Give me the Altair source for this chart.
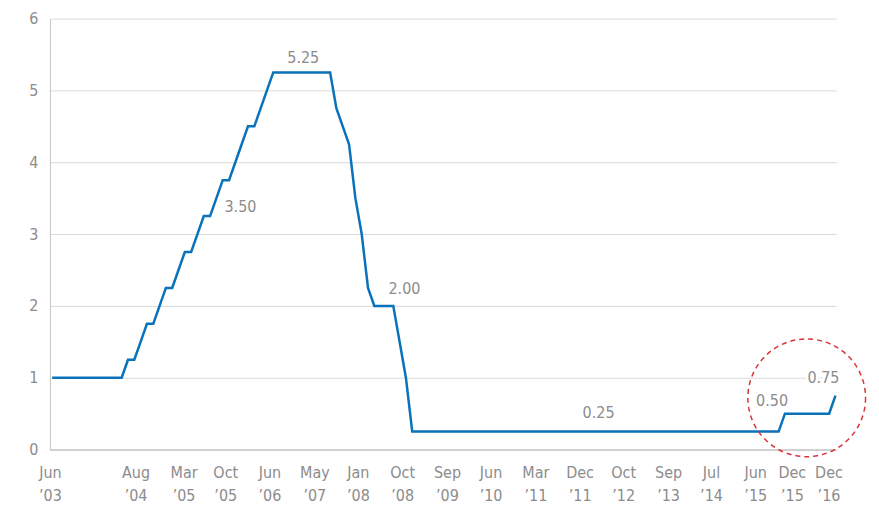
import json
import altair as alt
import pandas as pd

# Fed funds target rate, one value per observation (equally spaced along x)
rate_2003_2004 = [1.00] * 12
rate_hikes = [1.25, 1.25, 1.50, 1.75, 1.75, 2.00, 2.25, 2.25, 2.50, 2.75, 2.75,
              3.00, 3.25, 3.25, 3.50, 3.75, 3.75, 4.00, 4.25, 4.50, 4.50, 4.75, 5.00]
rate_peak = [5.25] * 10
rate_cuts = [4.75, 4.50, 4.25, 3.50, 3.00, 2.25, 2.00, 2.00, 2.00, 2.00, 1.50, 1.00]
rate_zero = [0.25] * 59
rate_2016 = [0.50] * 8
rate_last = [0.75]
rates = rate_2003_2004 + rate_hikes + rate_peak + rate_cuts + rate_zero + rate_2016 + rate_last

# x-axis tick positions (in observation units) and their two-line labels
tick_pos = [-0.36, 13.2, 20.8, 27.4, 34.4, 41.5, 48.4, 55.4, 62.5, 69.4, 76.5,
            83.5, 90.4, 97.5, 104.3, 111.3, 117.1, 122.9]
tick_month = ["Jun", "Aug", "Mar", "Oct", "Jun", "May", "Jan", "Oct", "Sep", "Jun",
              "Mar", "Dec", "Oct", "Sep", "Jul", "Jun", "Dec", "Dec"]
tick_year = ["’03", "’04", "’05", "’05", "’06", "’07", "’08", "’08", "’09", "’10",
             "’11", "’11", "’12", "’13", "’14", "’15", "’15", "’16"]

# annotations
ann_x = [39.75, 29.8, 55.77, 86.5, 113.96, 122.1]
ann_y = [5.45, 3.37, 2.24, 0.51, 0.68, 0.99]
ann_text = ["5.25", "3.50", "2.00", "0.25", "0.50", "0.75"]

# highlight circle centre
circle_x = [119.45]
circle_y = [0.72]

df = pd.DataFrame({"obs": list(range(len(rates))), "rate": rates})
ann = pd.DataFrame({"obs": ann_x, "rate": ann_y, "label": ann_text})
circ = pd.DataFrame({"obs": circle_x, "rate": circle_y})

labels_js = json.dumps([m + "|" + y for m, y in zip(tick_month, tick_year)], ensure_ascii=False)
pos_js = json.dumps(tick_pos)
label_expr = f"split({labels_js}[indexof({pos_js}, datum.value)], '|')"

FONT = "Liberation Sans Narrow, DejaVu Sans Condensed, Roboto Condensed, Roboto, sans-serif"
GRAY = "#8c8c8c"

x_enc = alt.X("obs:Q",
              scale=alt.Scale(domain=[-0.36, 124.1], nice=False, zero=False),
              axis=alt.Axis(values=tick_pos, labelExpr=label_expr, title=None,
                            grid=False, ticks=False, labelPadding=15,
                            labelLineHeight=23, labelOverlap=False, labelFlush=False,
                            labelBound=False, domainColor="#b3b3b3", domainWidth=1))
y_enc = alt.Y("rate:Q",
              scale=alt.Scale(domain=[0, 6], nice=False),
              axis=alt.Axis(values=[0, 1, 2, 3, 4, 5, 6], title=None, grid=True,
                            gridColor="#dadada", gridWidth=1, ticks=False,
                            labelPadding=12, domainColor="#c4c4c4", domainWidth=1,
                            format="d"))

line = alt.Chart(df).mark_line(color="#0a72ba", strokeWidth=2.5).encode(x=x_enc, y=y_enc)

halo = alt.Chart(ann).mark_text(fontSize=16, font=FONT, color="white", stroke="white",
                                strokeWidth=5, align="center", baseline="middle").encode(
    x="obs:Q", y="rate:Q", text="label:N")
text = alt.Chart(ann).mark_text(fontSize=16, font=FONT, color=GRAY,
                                align="center", baseline="middle").encode(
    x="obs:Q", y="rate:Q", text="label:N")

circle = alt.Chart(circ).mark_point(shape="circle", filled=False, size=13924,
                                    stroke="#d8343c", strokeWidth=1.5,
                                    strokeDash=[5, 4], opacity=1).encode(
    x="obs:Q", y="rate:Q")

chart = alt.layer(line, halo, text, circle).properties(
    width=788, height=432,
    autosize=alt.AutoSizeParams(type="none"),
    padding={"left": 42, "top": 10, "right": 35, "bottom": 55},
).configure_view(stroke=None).configure_axis(
    labelFont=FONT, labelFontSize=16, labelColor=GRAY
)

chart.save("out.html", embed_options={"renderer": "svg", "actions": False})
